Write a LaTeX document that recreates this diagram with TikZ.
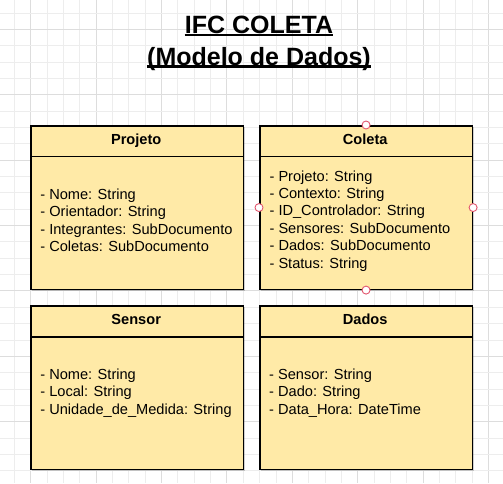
\documentclass[tikz,border=0pt]{standalone}
\usepackage{fontspec}
\setmainfont{Liberation Sans}
\begin{document}
\definecolor{gridminor}{HTML}{EDEDED}
\definecolor{gridmajor}{HTML}{DDDDDD}
\definecolor{classfill}{HTML}{FFEAA7}
\definecolor{portred}{HTML}{E2566E}
\tikzset{
  classbox/.style={draw=black, line width=1.6pt, fill=classfill, inner sep=0pt, anchor=north west},
  classshadow/.style={fill=black, opacity=0.18, inner sep=0pt, anchor=north west, draw=none},
  classhead/.style={anchor=base, inner sep=0pt, font=\fontsize{14.6}{17.4}\selectfont\bfseries},
  classbody/.style={anchor=north west, inner sep=0pt, align=left, font=\fontsize{14.6}{17.4}\selectfont},
  titleline/.style={anchor=base, inner sep=0pt, font=\fontsize{25}{30}\selectfont\bfseries},
  port/.style={circle, draw=portred, fill=white, line width=0.9pt, minimum size=8pt, inner sep=0pt}
}
\begin{tikzpicture}[x=1pt,y=-1pt]
  % canvas and background grid
  \fill[white] (0,0) rectangle (503,483);
  \useasboundingbox (0,0) rectangle (503,483);
  \foreach \i in {-1,...,28} {
    \pgfmathsetmacro\gx{30.7+16.35*\i}
    \pgfmathtruncatemacro\ismajor{mod(\i+4,4)==0}
    \ifnum\ismajor=1
      \draw[gridmajor, line width=0.9pt] (\gx,0) -- (\gx,483);
    \else
      \draw[gridminor, line width=0.9pt] (\gx,0) -- (\gx,483);
    \fi
  }
  \foreach \j in {-1,...,27} {
    \pgfmathsetmacro\gy{29.3+16.35*\j}
    \pgfmathtruncatemacro\ismajor{mod(\j+4,4)==0}
    \ifnum\ismajor=1
      \draw[gridmajor, line width=0.9pt] (0,\gy) -- (503,\gy);
    \else
      \draw[gridminor, line width=0.9pt] (0,\gy) -- (503,\gy);
    \fi
  }

  % title
  \node[titleline] (title1) at (259,33.3) {IFC COLETA};
  \node[titleline] (title2) at (259,65) {(Modelo de Dados)};
  \draw[line width=2.3pt] ([yshift=-1.6pt]title1.base west) -- ([yshift=-1.6pt]title1.base east);
  \draw[line width=2.3pt] ([yshift=-1.6pt]title2.base west) -- ([yshift=-1.6pt]title2.base east);

  % class boxes: name, left, top, width, height
  \foreach \n/\x/\y in {projeto/30/125, coleta/259/125, sensor/30/305.3, dados/259/305.3} {
    \node[classshadow, minimum width=212.5pt, minimum height=163.5pt] (\n-shadow) at (\x+1.8,\y+1.8) {};
    \node[classbox, minimum width=212.5pt, minimum height=163.5pt] (\n) at (\x,\y) {};
    \draw[line width=1.6pt] ([yshift=-31.5pt]\n.north west) -- ([yshift=-31.5pt]\n.north east);
  }

  % class names
  \node[classhead] (projeto-name) at (136.2,144.4) {Projeto};
  \node[classhead] (coleta-name)  at (365.2,144.4) {Coleta};
  \node[classhead] (sensor-name)  at (136.2,324.5) {Sensor};
  \node[classhead] (dados-name)   at (365.2,324.5) {Dados};

  % attributes
  \node[classbody] (projeto-attr) at (40.2,199-12.18) {\strut- Nome: String\\- Orientador: String\\- Integrantes: SubDocumento\\- Coletas: SubDocumento};
  \node[classbody] (coleta-attr) at (269.4,180.8-12.18) {\strut- Projeto: String\\- Contexto: String\\- ID\_Controlador: String\\- Sensores: SubDocumento\\- Dados: SubDocumento\\- Status: String};
  \node[classbody] (sensor-attr) at (40.2,379-12.18) {\strut- Nome: String\\- Local: String\\- Unidade\_de\_Medida: String};
  \node[classbody] (dados-attr) at (269,379-12.18) {\strut- Sensor: String\\- Dado: String\\- Data\_Hora: DateTime};

  % connection points on the Coleta box
  \node[port] (coleta-n) at (coleta.north) {};
  \node[port] (coleta-s) at (coleta.south) {};
  \node[port] (coleta-w) at (coleta.west) {};
  \node[port] (coleta-e) at (coleta.east) {};
\end{tikzpicture}
\end{document}
